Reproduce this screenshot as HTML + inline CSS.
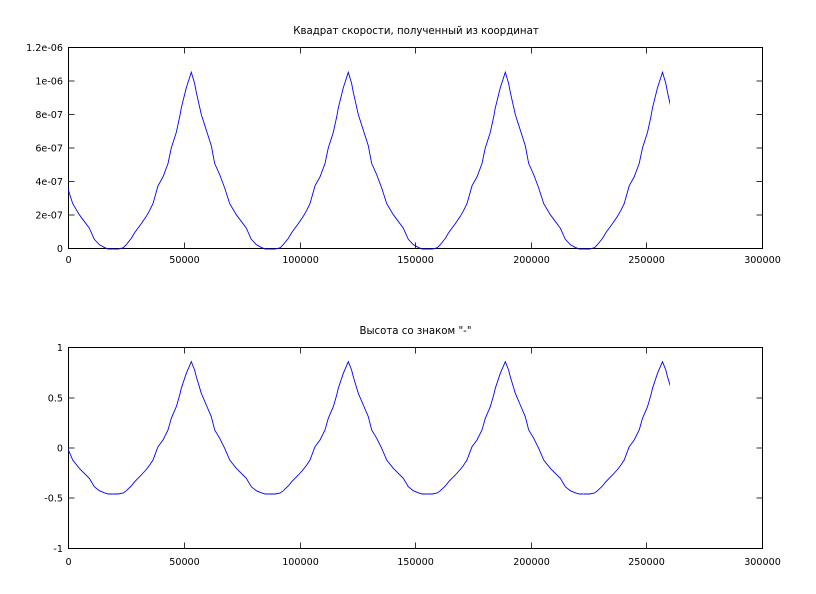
<!DOCTYPE html>
<html><head><meta charset="utf-8"><style>
html,body{margin:0;padding:0;background:#fff;}
svg{display:block;}
text{font-family:"DejaVu Sans","Liberation Sans",sans-serif;font-size:9.6px;fill:#000;}
text.t{font-size:10.2px;}
</style></head><body>
<svg width="816" height="594" viewBox="0 0 816 594" xmlns="http://www.w3.org/2000/svg">
<defs>
<path id="per" fill="none" stroke="#0000ff" stroke-width="0.9" vector-effect="non-scaling-stroke" d="M-78.5,494 L-73,494 L-68,493 L-65,490.7 L-60,486 L-56.6,481.7 L-50,475 L-45,469.5 L-41.6,465 L-38.3,460 L-33.3,446.7 L-28.3,440 L-23.3,430 L-20,418.3 L-15,406.7 L-11.6,395 L-10,388.3 L-5,373.3 L0,361.7 L3.3,370 L5,376.7 L10,393.3 L15,405 L20,416.7 L23.4,430 L28.4,438.3 L33.4,448.3 L38.4,460 L45,468.3 L55,478.3 L60,486.7 L65,490.7 L70,492.8 L74,494 L78.5,494"/>
<clipPath id="cb"><rect x="68" y="300" width="602" height="260"/></clipPath>
<clipPath id="ct"><rect x="68" y="0" width="602" height="260"/></clipPath>
</defs>

<!-- Titles -->
<text class="t" x="416" y="34" text-anchor="middle">Квадрат скорости, полученный из координат</text>
<text class="t" x="415.5" y="334" text-anchor="middle">Высота со знаком "-"</text>

<!-- TOP PLOT -->
<g stroke="#000" stroke-width="1" fill="none" shape-rendering="crispEdges">
<rect x="68.5" y="47.5" width="694" height="201"/>
</g>
<g stroke="#333" stroke-width="1" shape-rendering="crispEdges">
<path d="M68.5,215h6 M68.5,181.5h6 M68.5,148h6 M68.5,114.5h6 M68.5,81h6 M762.5,215h-6 M762.5,181.5h-6 M762.5,148h-6 M762.5,114.5h-6 M762.5,81h-6"/>
<path d="M184.5,248.5v-6 M300.5,248.5v-6 M415.5,248.5v-6 M531.5,248.5v-6 M646.5,248.5v-6 M184.5,47.5v6 M300.5,47.5v6 M415.5,47.5v6 M531.5,47.5v6 M646.5,47.5v6"/>
</g>
<g text-anchor="end">
<text x="63" y="252">0</text>
<text x="63" y="218.5">2e-07</text>
<text x="63" y="185">4e-07</text>
<text x="63" y="151.5">6e-07</text>
<text x="63" y="118">8e-07</text>
<text x="63" y="84.5">1e-06</text>
<text x="63" y="51">1.2e-06</text>
</g>
<g text-anchor="middle">
<text x="68.5" y="263">0</text>
<text x="184.5" y="263">50000</text>
<text x="300.5" y="263">100000</text>
<text x="415.5" y="263">150000</text>
<text x="531.5" y="263">200000</text>
<text x="646.5" y="263">250000</text>
<text x="762.5" y="263">300000</text>
</g>
<g clip-path="url(#ct)">
<g transform="matrix(1 0 0 1.336 0 -410.95)">
<use href="#per" transform="translate(34.3,0)"/>
<use href="#per" transform="translate(191.3,0)"/>
<use href="#per" transform="translate(348.3,0)"/>
<use href="#per" transform="translate(505.3,0)"/>
<use href="#per" transform="translate(662.5,0)"/>
</g>
</g>

<!-- BOTTOM PLOT -->
<g stroke="#000" stroke-width="1" fill="none" shape-rendering="crispEdges">
<rect x="68.5" y="347.5" width="694" height="201"/>
</g>
<g stroke="#333" stroke-width="1" shape-rendering="crispEdges">
<path d="M68.5,498h6 M68.5,448h6 M68.5,398h6 M762.5,498h-6 M762.5,448h-6 M762.5,398h-6"/>
<path d="M184.5,548.5v-6 M300.5,548.5v-6 M415.5,548.5v-6 M531.5,548.5v-6 M646.5,548.5v-6 M184.5,347.5v6 M300.5,347.5v6 M415.5,347.5v6 M531.5,347.5v6 M646.5,347.5v6"/>
</g>
<g text-anchor="end">
<text x="63" y="552">-1</text>
<text x="63" y="501.5">-0.5</text>
<text x="63" y="451.5">0</text>
<text x="63" y="401.5">0.5</text>
<text x="63" y="351">1</text>
</g>
<g text-anchor="middle">
<text x="68.5" y="565">0</text>
<text x="184.5" y="565">50000</text>
<text x="300.5" y="565">100000</text>
<text x="415.5" y="565">150000</text>
<text x="531.5" y="565">200000</text>
<text x="646.5" y="565">250000</text>
<text x="762.5" y="565">300000</text>
</g>
<g clip-path="url(#cb)">
<use href="#per" transform="translate(34.3,0)"/>
<use href="#per" transform="translate(191.3,0)"/>
<use href="#per" transform="translate(348.3,0)"/>
<use href="#per" transform="translate(505.3,0)"/>
<use href="#per" transform="translate(662.5,0)"/>
</g>
</svg>
</body></html>
